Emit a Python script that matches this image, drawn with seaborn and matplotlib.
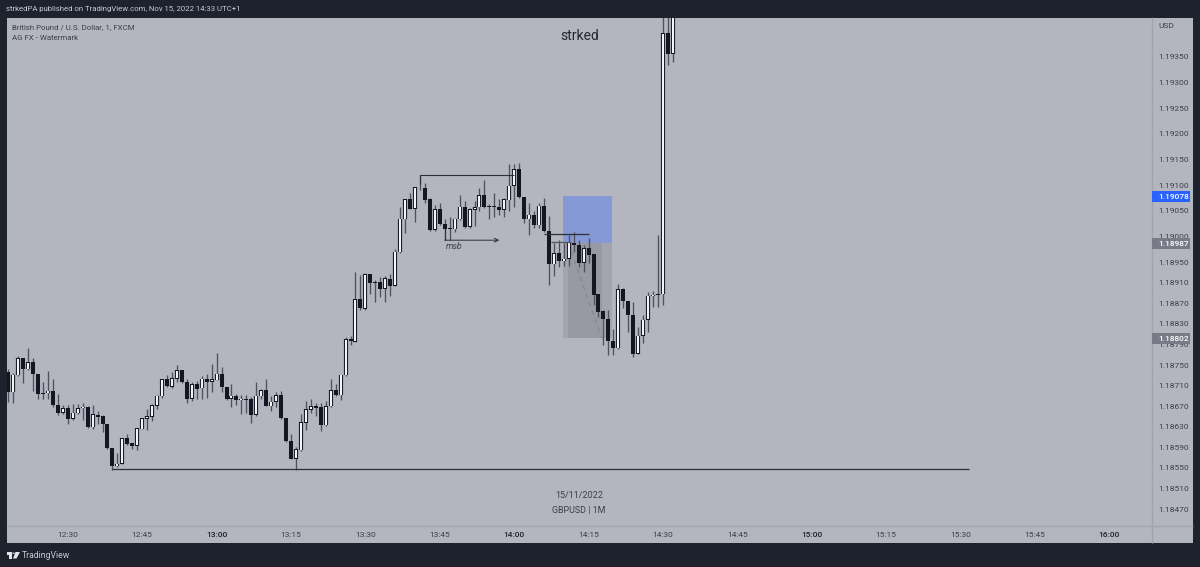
import matplotlib
matplotlib.use("Agg")
import matplotlib.pyplot as plt
from matplotlib.patches import Rectangle, Polygon, Circle
from matplotlib.lines import Line2D
from matplotlib.transforms import blended_transform_factory
import numpy as np
import pandas as pd
import seaborn as sns

# prices are kept as 1e-5 steps above 1.0, 18738 -> 1.18738
first_minute = 12 * 60 + 18

opens = [18738,18698,18732,18765,18743,18757,18735,18696,18696,18701,18673,18658,18667,18647,18657,18667,18670,18630,18654,18652,
         18636,18589,18554,18559,18608,18600,18594,18626,18647,18650,18672,18691,18724,18709,18725,18741,18719,18686,18714,18706,
         18725,18719,18722,18735,18709,18686,18692,18683,18686,18685,18654,18691,18702,18671,18680,18693,18649,18604,18568,18585,
         18639,18664,18671,18669,18634,18671,18702,18693,18732,18802,18797,18880,18862,18929,18915,18914,18901,18920,18907,18972,
         19037,19076,19057,19098,19098,19076,19016,19056,19027,19019,19017,19037,19061,19022,19055,19060,19084,19062,19062,19061,
         19055,19074,19102,19135,19081,19037,19046,19025,19063,19014,18949,18970,18955,18960,18991,18986,18952,18980,18968,18890,
         18857,18841,18799,18784,18900,18877,18849,18774,18809,18840,18886,18888,18890,19401,19360]
closes = [18699,18733,18765,18744,18757,18734,18695,18695,18701,18673,18658,18667,18647,18658,18667,18670,18631,18655,18651,18636,
          18589,18554,18559,18608,18598,18594,18628,18648,18652,18673,18692,18724,18710,18726,18741,18718,18686,18714,18705,18725,
          18719,18724,18735,18709,18686,18692,18683,18686,18684,18654,18692,18702,18671,18680,18693,18649,18604,18568,18587,18640,
          18665,18671,18668,18634,18671,18702,18693,18733,18802,18798,18880,18864,18929,18913,18913,18900,18921,18907,18973,19038,
          19076,19057,19099,19097,19074,19016,19056,19027,19018,19018,19038,19061,19022,19056,19060,19084,19060,19060,19060,19055,
          19076,19102,19135,19080,19037,19046,19025,19063,19014,18949,18970,18955,18960,18991,18986,18952,18980,18967,18889,18856,
          18841,18799,18784,18900,18877,18849,18774,18809,18840,18887,18889,18890,19401,19360,19456]
highs = [18743,18737,18769,18765,18784,18765,18735,18719,18740,18725,18695,18673,18673,18675,18675,18677,18671,18673,18662,18654,
         18636,18589,18579,18609,18617,18600,18629,18649,18665,18675,18693,18725,18732,18738,18752,18741,18724,18719,18721,18730,
         18734,18753,18776,18747,18709,18714,18695,18693,18693,18690,18719,18704,18724,18691,18699,18701,18649,18617,18592,18656,
         18682,18686,18678,18678,18682,18724,18714,18733,18806,18808,18934,18928,18931,18929,18917,18923,18926,18929,18978,19061,
         19076,19089,19099,19123,19108,19078,19065,19068,19038,19042,19040,19085,19073,19059,19072,19097,19113,19066,19089,19076,
         19079,19144,19144,19146,19081,19068,19052,19068,19078,19043,18990,18996,18990,19006,19012,18996,18986,19001,18968,18890,
         18860,18860,18823,18910,18902,18877,18874,18827,18849,18895,18897,19006,19456,19456,19466]
lows = [18680,18677,18731,18717,18742,18701,18686,18686,18686,18670,18654,18656,18636,18644,18656,18644,18629,18626,18636,18621,
        18587,18547,18553,18558,18595,18587,18585,18626,18624,18643,18665,18688,18709,18707,18719,18716,18677,18682,18685,18686,
        18688,18699,18722,18699,18684,18670,18673,18656,18657,18639,18652,18686,18671,18662,18669,18647,18602,18567,18547,18584,
        18624,18657,18652,18623,18633,18669,18691,18683,18731,18791,18796,18860,18859,18890,18875,18885,18875,18887,18906,18970,
        19009,19056,19031,19093,19068,19014,19014,19025,18996,18996,19012,19035,19020,19020,19023,19052,19059,19038,19042,19045,
        19042,19053,19061,19079,19029,19006,19019,19019,19012,18908,18926,18943,18945,18945,18972,18943,18934,18952,18869,18846,
        18791,18771,18772,18783,18864,18817,18767,18773,18794,18817,18866,18866,18869,19338,19344]

y_ticks = [19350,19300,19250,19200,19150,19100,19050,19000,18950,18910,18870,18830,18790,18750,18710,18670,18630,18590,18550,18510,18470]
x_ticks = ["12:30","12:45","13:00","13:15","13:30","13:45","14:00","14:15","14:30","14:45","15:00","15:15","15:30","15:45","16:00"]
hour_ticks = ["13:00","14:00","15:00","16:00"]

level_line = 18548
msb_high = 19120
msb_low = 18993
entry_line = 19006
entry_line_low = 18989
pos_top = 19078
pos_mid = 18987
pos_bottom = 18802

BG = "#b3b5bf"
DARK = "#1e222d"
CANDLE = "#131722"
TEXT = "#3c3f49"
SEP = "#a1a3ad"


def to_minute(label):
    h, m = label.split(":")
    return int(h) * 60 + int(m)


def px_x(x):
    return x / 1200


def px_y(y):
    return 1 - y / 567


def to_price(p):
    return 1 + np.asarray(p) / 1e5


# candle readings were taken against a slightly steep price scale, pull them onto the axis one
def candle_price(p):
    return to_price(18470 + (np.asarray(p) - 18470) * 0.99463)


sns.set_theme(style="white", rc={"lines.solid_capstyle": "butt", "axes.linewidth": 1})
plt.rcParams["font.family"] = ["Roboto", "DejaVu Sans"]

df = pd.DataFrame({"minute": first_minute + np.arange(len(opens)),
                   "open": candle_price(opens), "close": candle_price(closes),
                   "high": candle_price(highs), "low": candle_price(lows)})
df["top"] = df[["open", "close"]].max(axis=1)
df["bottom"] = df[["open", "close"]].min(axis=1)
df["up"] = df["close"] >= df["open"]


def long_table(frame, a, b):
    return frame.melt(id_vars="minute", value_vars=[a, b], value_name="price").sort_values("minute")


fig = plt.figure(figsize=(12, 5.67), dpi=100, facecolor=DARK)
fig.patches.append(Rectangle((px_x(7), px_y(543)), (1193 - 7) / 1200, (543 - 18) / 567,
                             transform=fig.transFigure, facecolor=BG, edgecolor="none", zorder=-1))
ax = fig.add_axes([px_x(7), px_y(525.5), (1152 - 7) / 1200, (525.5 - 18) / 567])
ax.set_facecolor(BG)

ax.set_xlim(first_minute - 0.26, first_minute + 230.6)
ax.set_ylim(1.18438, 1.194252)

# position tool boxes
ax.add_patch(Rectangle((to_minute("14:09") + 0.8, to_price(pos_mid)), 9.9, to_price(pos_top) - to_price(pos_mid),
                       facecolor="#8499d6", edgecolor="none", zorder=1))
ax.add_patch(Rectangle((to_minute("14:09") + 0.8, to_price(pos_bottom)), 9.9, to_price(pos_mid) - to_price(pos_bottom),
                       facecolor="#a3a4ae", edgecolor="none", zorder=1))
ax.add_patch(Rectangle((to_minute("14:10") + 0.9, to_price(pos_bottom)), 6.8, to_price(pos_mid) - to_price(pos_bottom),
                       facecolor="#989aa3", edgecolor="none", zorder=1))
ax.plot([to_minute("14:10") + 0.9, to_minute("14:17") + 0.7], to_price([pos_mid, pos_bottom]),
        color="#83858f", lw=0.8, ls=(0, (4, 4)), zorder=1.5)

# candles
sns.lineplot(data=long_table(df, "high", "low"), x="minute", y="price", units="minute", estimator=None, sort=False,
             color="#4f515c", lw=0.95, ax=ax)
sns.lineplot(data=long_table(df[~df.up], "top", "bottom"), x="minute", y="price", units="minute", estimator=None,
             sort=False, color=CANDLE, lw=2.9, ax=ax)
up = df[df.up].copy()
sns.lineplot(data=long_table(up, "top", "bottom"), x="minute", y="price", units="minute", estimator=None,
             sort=False, color=CANDLE, lw=3.0, ax=ax)
up["inner_top"] = up["top"] - 1e-5
up["inner_bottom"] = up["bottom"] + 1e-5
sns.lineplot(data=long_table(up, "inner_top", "inner_bottom"), x="minute", y="price", units="minute", estimator=None,
             sort=False, color="#f4f4f4", lw=1.5, ax=ax)

# drawings
ax.plot([first_minute + 21, to_minute("15:31") + 0.8], to_price([level_line, level_line]), color="#2d2f38", lw=0.9)
ax.plot([first_minute + 83, first_minute + 83, first_minute + 102], to_price([19102, msb_high, msb_high]),
        color="#2d2f38", lw=0.8)
ax.plot([first_minute + 88, first_minute + 88], to_price([19016, msb_low]), color="#2d2f38", lw=0.8)
ax.annotate("", xy=(first_minute + 99, to_price(msb_low)), xytext=(first_minute + 88, to_price(msb_low)),
            arrowprops=dict(arrowstyle="->", color="#2d2f38", lw=0.7, shrinkA=0, shrinkB=0, mutation_scale=7))
ax.plot([first_minute + 108, first_minute + 117], to_price([entry_line, entry_line]), color="#2d2f38", lw=0.9)
ax.plot([first_minute + 109.5, first_minute + 113.5], to_price([entry_line_low, entry_line_low]), color="#55575f", lw=0.9)
ax.text(first_minute + 90, to_price(18980), "msb", fontsize=6.3, style="italic", color=TEXT, ha="center", va="center")

ax.set_xlabel("")
ax.set_ylabel("")
ax.set_xticks([to_minute(t) for t in x_ticks])
ax.set_xticklabels(x_ticks)
ax.set_yticks(to_price(y_ticks))
ax.set_yticklabels(["%.5f" % v for v in to_price(y_ticks)])
ax.yaxis.tick_right()
ax.tick_params(axis="both", length=0, labelsize=6.0, labelcolor=TEXT)
ax.tick_params(axis="x", pad=4.5)
ax.tick_params(axis="y", pad=4.5)
for label in ax.get_xticklabels():
    if label.get_text() in hour_ticks:
        label.set_color("#1e222d")
        label.set_fontweight("medium")
for side in ["top", "left"]:
    ax.spines[side].set_visible(False)
for side in ["right", "bottom"]:
    ax.spines[side].set_color(SEP)
# separators run on through the corner of the scales
fig.add_artist(Line2D([px_x(1152), px_x(1193)], [px_y(525.5), px_y(525.5)], color=SEP, lw=1))
fig.add_artist(Line2D([px_x(1152), px_x(1152)], [px_y(525.5), px_y(543)], color=SEP, lw=1))

# price tags on the scale
tag_trans = blended_transform_factory(ax.transAxes, ax.transData)
for value, color in [(19078, "#2962ff"), (18987, "#787b86"), (18802, "#787b86")]:
    ax.add_patch(Rectangle((1.0, to_price(value) - 11e-5), 38 / 1145, 22e-5, transform=tag_trans, facecolor=color,
                           edgecolor="none", clip_on=False, zorder=5))
    ax.text(1.0 + 6.5 / 1145, to_price(value), "%.5f" % to_price(value), transform=tag_trans, color="white", fontsize=6.0,
            va="center_baseline", ha="left", fontweight="medium", zorder=6, clip_on=False)

# texts
fig.text(px_x(6), px_y(9), "strkedPA published on TradingView.com, Nov 15, 2022 14:33 UTC+1", color="#c8cad2", fontsize=5.6,
         va="center")
fig.text(px_x(12), px_y(27), "British Pound / U.S. Dollar, 1, FXCM", color=TEXT, fontsize=5.7, va="center")
fig.text(px_x(12), px_y(38), "AG FX - Watermark", color=TEXT, fontsize=5.7, va="center")
fig.text(px_x(1158), px_y(26.5), "USD", color=TEXT, fontsize=6.0, va="center")
fig.text(px_x(579.5), px_y(35.5), "strked", color="#23262f", fontsize=10, ha="center", va="center")
fig.text(px_x(579.5), px_y(495), "15/11/2022", color=TEXT, fontsize=6.5, ha="center", va="center")
fig.text(px_x(579), px_y(511), "GBPUSD | 1M", color=TEXT, fontsize=6.4, ha="center", va="center")
fig.text(px_x(22), px_y(555.5), "TradingView", color="#c8cad2", fontsize=6.2, va="center")

# small logo in the footer
for pts in [[(6.5, 552), (12, 552), (12, 558.5), (9.2, 558.5), (9.2, 554.5), (6.5, 554.5)],
            [(15.5, 552), (20, 552), (16.5, 558.5), (13, 558.5)]]:
    fig.patches.append(Polygon([(px_x(a), px_y(b)) for a, b in pts], transform=fig.transFigure,
                               facecolor="#e4e5ea", edgecolor="none"))
fig.patches.append(Circle((px_x(13.6), px_y(553.2)), 1.3 / 1200, transform=fig.transFigure, facecolor="#e4e5ea",
                          edgecolor="none"))

fig.savefig("out.png", dpi=100, facecolor=DARK)
